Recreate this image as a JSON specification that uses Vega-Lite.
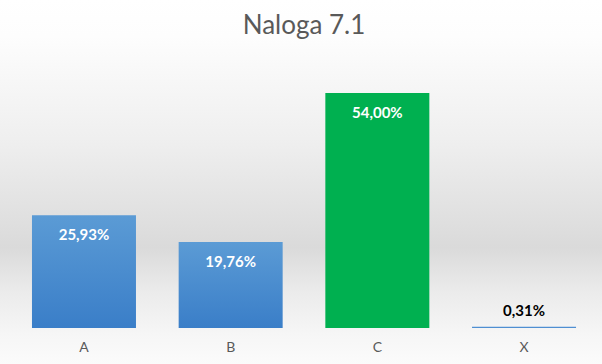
{
  "$schema": "https://vega.github.io/schema/vega-lite/v6.json",
  "autosize": "none",
  "width": 602,
  "height": 364,
  "padding": 0,
  "background": "#ffffff",
  "title": {"text": "Naloga 7.1", "fontSize": 26, "font": "Lato", "fontWeight": "normal", "color": "#595959", "offset": -65, "anchor": "middle", "baseline": "bottom", "dx": 3},
  "config": {
    "locale": {"number": {"decimal": ",", "thousands": ".", "grouping": [3], "currency": ["", " €"]}},
    "view": {"stroke": null, "fill": {"gradient": "linear", "x1": 0, "y1": 0, "x2": 0, "y2": 1, "stops": [{"offset": 0, "color": "#ffffff"}, {"offset": 0.1, "color": "#fdfdfd"}, {"offset": 0.4, "color": "#eeeeee"}, {"offset": 0.68, "color": "#dadada"}, {"offset": 0.8, "color": "#ebebeb"}, {"offset": 0.92, "color": "#f6f6f6"}, {"offset": 1, "color": "#fbfbfb"}]}}
  },
  "data": {"values": [
    {"cat": "A", "value": 0.2593},
    {"cat": "B", "value": 0.1976},
    {"cat": "C", "value": 0.54},
    {"cat": "X", "value": 0.0031}
  ]},
  "encoding": {
    "x": {"field": "cat", "type": "nominal", "sort": ["A", "B", "C", "X"], "scale": {"range": [11, 597], "paddingInner": 0.291, "paddingOuter": 0.143},
      "axis": {"title": null, "labelAngle": 0, "domain": false, "ticks": false, "labelFont": "Lato", "labelFontSize": 14, "labelColor": "#595959", "labelPadding": 12, "offset": -36}},
    "y": {"field": "value", "type": "quantitative", "scale": {"domain": [-0.0827, 0.7537], "nice": false, "zero": false}, "axis": null}
  },
  "layer": [
    {"transform": [{"filter": "datum.cat === 'A' || datum.cat === 'B'"}],
     "mark": {"type": "bar", "color": {"gradient": "linear", "x1": 0, "y1": 0, "x2": 0, "y2": 1, "stops": [{"offset": 0, "color": "#5b9bd5"}, {"offset": 1, "color": "#3a7ec8"}]}}},
    {"transform": [{"filter": "datum.cat === 'X'"}],
     "mark": {"type": "bar", "color": "#4f8fd2"}},
    {"transform": [{"filter": "datum.cat === 'C'"}],
     "mark": {"type": "bar", "color": "#00b050"}},
    {"transform": [{"filter": "datum.value > 0.05"}],
     "mark": {"type": "text", "baseline": "middle", "dy": 20, "color": "#ffffff", "font": "Lato", "fontWeight": "bold", "fontSize": 15},
     "encoding": {"text": {"field": "value", "type": "quantitative", "format": ".2%"}}},
    {"transform": [{"filter": "datum.value <= 0.05"}],
     "mark": {"type": "text", "baseline": "middle", "dy": -16, "color": "#000000", "font": "Lato", "fontWeight": "bold", "fontSize": 15},
     "encoding": {"text": {"field": "value", "type": "quantitative", "format": ".2%"}}}
  ]
}
